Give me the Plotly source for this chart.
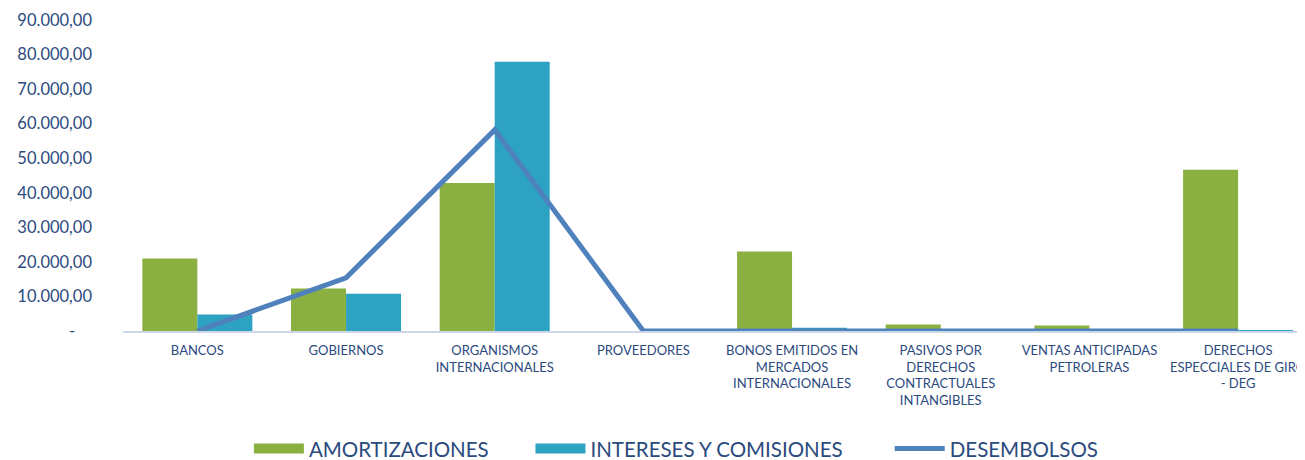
import plotly.graph_objects as go

categories = [
    "BANCOS",
    "GOBIERNOS",
    "ORGANISMOS<br>INTERNACIONALES",
    "PROVEEDORES",
    "BONOS EMITIDOS EN<br>MERCADOS<br>INTERNACIONALES",
    "PASIVOS POR<br>DERECHOS<br>CONTRACTUALES<br>INTANGIBLES",
    "VENTAS ANTICIPADAS<br>PETROLERAS",
    "DERECHOS<br>ESPECCIALES DE GIRO<br>- DEG",
]
amortizaciones = [21000, 12300, 42800, 0, 23000, 1900, 1600, 46700]
intereses = [4800, 10800, 77900, 0, 950, 0, 0, 250]
desembolsos = [0, 15400, 58200, 0, 0, 0, 0, 0]

tick_vals = [0, 10000, 20000, 30000, 40000, 50000, 60000, 70000, 80000, 90000]
tick_text = ["-" + "\u00a0" * 4, "10.000,00", "20.000,00", "30.000,00", "40.000,00", "50.000,00",
             "60.000,00", "70.000,00", "80.000,00", "90.000,00"]

TXT = "#2B4A7E"
FONT = "Lato, 'Open Sans', sans-serif"
GREEN = "#8BB042"
CYAN = "#2EA2C3"
BLUE = "#4F81BD"

fig = go.Figure()
fig.add_trace(go.Bar(name="AMORTIZACIONES", x=categories, y=amortizaciones,
                     marker=dict(color=GREEN, line=dict(width=0)),
                     legendgroup="a", showlegend=False))
fig.add_trace(go.Bar(name="INTERESES Y COMISIONES", x=categories, y=intereses,
                     marker=dict(color=CYAN, line=dict(width=0)),
                     legendgroup="i", showlegend=False))
fig.add_trace(go.Scatter(name="DESEMBOLSOS", x=categories, y=desembolsos, mode="lines",
                         line=dict(color=BLUE, width=5), legendgroup="d", showlegend=False))

# legend entries (wide rectangle keys like the original)
fig.add_trace(go.Scatter(name="AMORTIZACIONES" + "\u00a0" * 7, x=[None], y=[None], mode="lines",
                         line=dict(color=GREEN, width=12), legendgroup="a"))
fig.add_trace(go.Scatter(name="INTERESES Y COMISIONES" + "\u00a0" * 8, x=[None], y=[None],
                         mode="lines", line=dict(color=CYAN, width=12), legendgroup="i"))
fig.add_trace(go.Scatter(name="DESEMBOLSOS", x=[None], y=[None], mode="lines",
                         line=dict(color=BLUE, width=5), legendgroup="d"))

fig.update_layout(
    width=1297, height=452,
    margin=dict(l=115, r=0, t=12, b=128.5, pad=0),
    paper_bgcolor="white", plot_bgcolor="white",
    barmode="group", bargap=0.26, bargroupgap=0,
    font=dict(family=FONT, color=TXT),
    legend=dict(orientation="h", x=0.1065, xanchor="left", xref="paper",
                y=0.025, yref="container", yanchor="middle",
                font=dict(size=20.5, color=TXT, family=FONT), itemwidth=50,
                traceorder="normal"),
    xaxis=dict(range=[-0.5, 7.45], showline=True, linecolor="#CCD8EA", linewidth=2,
               ticks="", tickfont=dict(size=13, color=TXT, family=FONT),
               showgrid=False, zeroline=False, automargin=False, ticklabelstandoff=6),
    yaxis=dict(range=[0, 90000], tickvals=tick_vals, ticktext=tick_text,
               tickfont=dict(size=16.5, color=TXT, family=FONT), showgrid=False,
               zeroline=False, showline=False, ticks="", ticklabelstandoff=30,
               automargin=False),
)

fig.write_html("out.html")
